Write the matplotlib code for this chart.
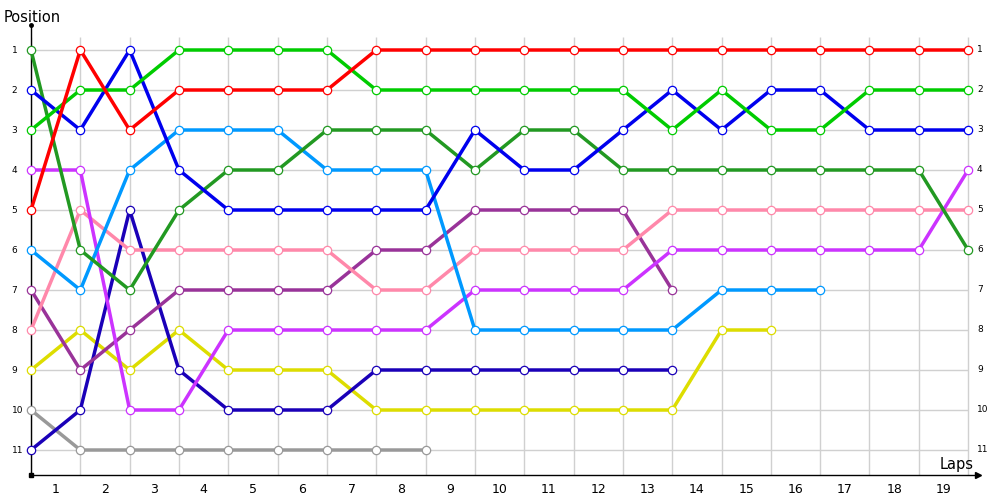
import matplotlib
matplotlib.use('Agg')
import matplotlib.pyplot as plt

# Lap chart data: position of each driver at every lap boundary (0..19)
red_pos = [5, 1, 3, 2, 2, 2, 2, 1, 1, 1, 1, 1, 1, 1, 1, 1, 1, 1, 1, 1]
green_pos = [3, 2, 2, 1, 1, 1, 1, 2, 2, 2, 2, 2, 2, 3, 2, 3, 3, 2, 2, 2]
blue_pos = [2, 3, 1, 4, 5, 5, 5, 5, 5, 3, 4, 4, 3, 2, 3, 2, 2, 3, 3, 3]
darkgreen_pos = [1, 6, 7, 5, 4, 4, 3, 3, 3, 4, 3, 3, 4, 4, 4, 4, 4, 4, 4, 6]
lightblue_pos = [6, 7, 4, 3, 3, 3, 4, 4, 4, 8, 8, 8, 8, 8, 7, 7, 7]
magenta_pos = [4, 4, 10, 10, 8, 8, 8, 8, 8, 7, 7, 7, 7, 6, 6, 6, 6, 6, 6, 4]
pink_pos = [8, 5, 6, 6, 6, 6, 6, 7, 7, 6, 6, 6, 6, 5, 5, 5, 5, 5, 5, 5]
purple_pos = [7, 9, 8, 7, 7, 7, 7, 6, 6, 5, 5, 5, 5, 7]
navy_pos = [11, 10, 5, 9, 10, 10, 10, 9, 9, 9, 9, 9, 9, 9]
yellow_pos = [9, 8, 9, 8, 9, 9, 9, 10, 10, 10, 10, 10, 10, 10, 8, 8]
gray_pos = [10, 11, 11, 11, 11, 11, 11, 11, 11]

lap_labels = [str(i) for i in range(1, 20)]
positions = list(range(1, 12))

series = [
    (gray_pos, '#999999'),
    (yellow_pos, '#dddd00'),
    (navy_pos, '#1a00b8'),
    (purple_pos, '#993399'),
    (pink_pos, '#ff88aa'),
    (magenta_pos, '#cc33ff'),
    (lightblue_pos, '#0099ff'),
    (darkgreen_pos, '#229922'),
    (blue_pos, '#0000ee'),
    (green_pos, '#00cc00'),
    (red_pos, '#ff0000'),
]

fig = plt.figure(figsize=(10, 5), dpi=100)
ax = fig.add_axes([0.031, 0.05, 0.947, 0.90])

n_pts = 20
ax.set_xlim(0, 19.2)
ax.set_ylim(11.625, 0.375)

# grid
ax.vlines(range(n_pts), 0.675, 11.625, color='#d0d0d0', lw=1, zorder=1)
ax.hlines(positions, 0, n_pts - 1, color='#d0d0d0', lw=1, zorder=1)

for ys, col in series:
    xs = list(range(len(ys)))
    ax.plot(xs, ys, color=col, lw=2.5, marker='o', markersize=6,
            markerfacecolor='white', markeredgecolor=col, markeredgewidth=0.9,
            zorder=3, clip_on=False)

# axes lines
for s in ['top', 'right']:
    ax.spines[s].set_visible(False)
ax.spines['left'].set_color('black')
ax.spines['bottom'].set_color('black')
ax.spines['left'].set_linewidth(1)
ax.spines['bottom'].set_linewidth(1)
ax.plot(0, 1, 'o', color='black', ms=2.5, transform=ax.transAxes, clip_on=False)
ax.plot(0, 0, 's', color='black', ms=2.5, transform=ax.transAxes, clip_on=False)
ax.plot(1, 0, '>', color='black', ms=5, transform=ax.transAxes, clip_on=False)

# ticks
ax.set_xticks([i + 0.5 for i in range(19)])
ax.set_xticklabels(lap_labels, fontsize=9)
ax.tick_params(axis='x', length=0, pad=6)

ax.set_yticks(positions)
ax.set_yticklabels([str(p) for p in positions], fontsize=6.5)
ax.tick_params(axis='y', length=0, pad=14)
for t in ax.yaxis.get_major_ticks():
    t.label1.set_horizontalalignment('left')

# position labels on the right side
ytrans = ax.get_yaxis_transform()
for p in positions:
    ax.text(0.999, p, str(p), transform=ytrans, fontsize=6.5,
            ha='left', va='center')

fig.text(0.004, 0.965, 'Position', fontsize=10.5, ha='left', va='center')
fig.text(0.974, 0.072, 'Laps', fontsize=10.5, ha='right', va='center')

fig.savefig('out.png', dpi=100)
